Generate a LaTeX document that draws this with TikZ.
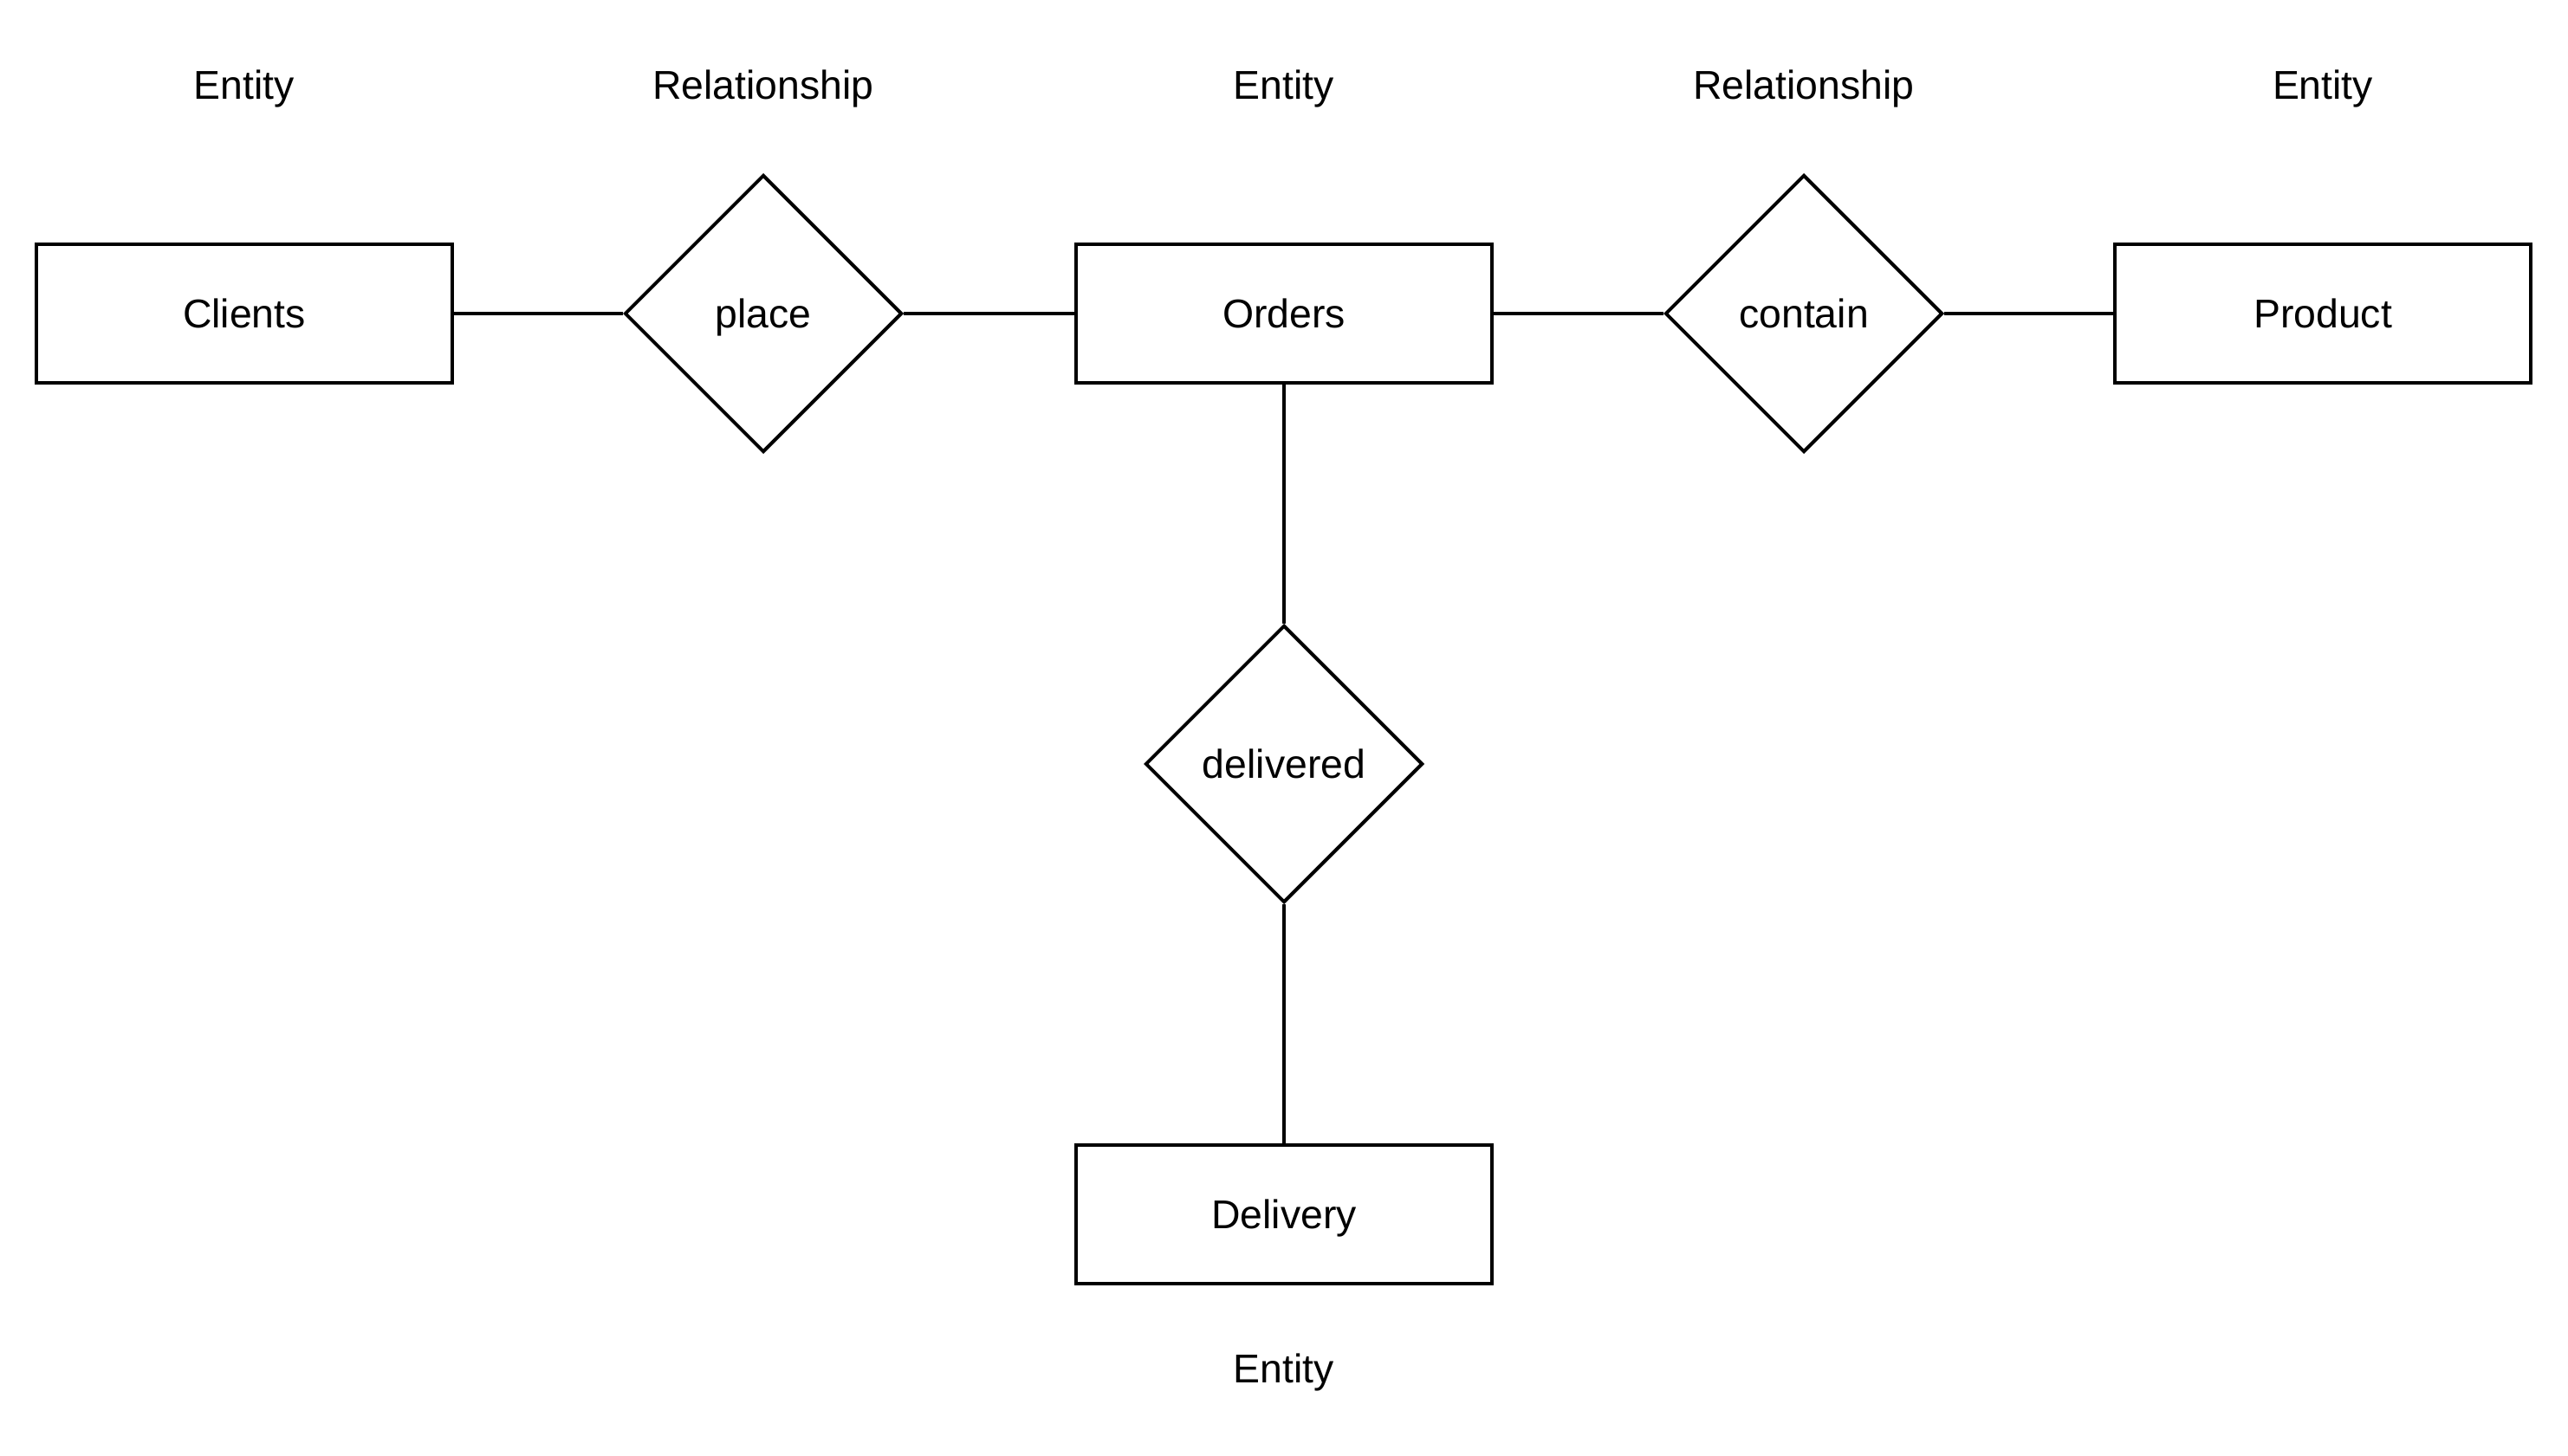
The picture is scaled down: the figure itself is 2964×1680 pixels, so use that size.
\documentclass[tikz,border=0pt]{standalone}
\usepackage{fontspec}
\setmainfont{Liberation Sans}
\usetikzlibrary{shapes.geometric}
\begin{document}
\begin{tikzpicture}[x=0.25pt,y=-0.25pt,
  every node/.style={font=\fontsize{11.6pt}{14pt}\selectfont,
    text height=8.3pt, text depth=0pt},
  entity/.style={draw, rectangle, line width=1pt, inner sep=0pt,
    minimum width=120pt, minimum height=40pt},
  relation/.style={draw, diamond, aspect=1, line width=1pt, inner sep=0pt,
    minimum width=80pt, minimum height=80pt},
  caption/.style={inner sep=0pt},
  link/.style={line width=1pt}]
  \useasboundingbox (0,0) rectangle (2964,1680);

  % entities
  \node[entity] (clients)  at (282,362)   {Clients};
  \node[entity] (orders)   at (1482,362)  {Orders};
  \node[entity] (product)  at (2681,362)  {Product};
  \node[entity] (delivery) at (1482,1402) {Delivery};

  % relationships
  \node[relation] (place)     at (881,362)  {place};
  \node[relation] (contain)   at (2082,362) {contain};
  \node[relation] (delivered) at (1482,882) {delivered};

  % column captions
  \node[caption] (capclients)  at (282,98)   {Entity};
  \node[caption] (capplace)    at (881,98)   {Relationship};
  \node[caption] (caporders)   at (1482,98)  {Entity};
  \node[caption] (capcontain)  at (2082,98)  {Relationship};
  \node[caption] (capproduct)  at (2681,98)  {Entity};
  \node[caption] (capdelivery) at (1482,1580) {Entity};

  % connectors
  \draw[link] (clients) -- (place);
  \draw[link] (place) -- (orders);
  \draw[link] (orders) -- (contain);
  \draw[link] (contain) -- (product);
  \draw[link] (orders) -- (delivered);
  \draw[link] (delivered) -- (delivery);
\end{tikzpicture}
\end{document}
